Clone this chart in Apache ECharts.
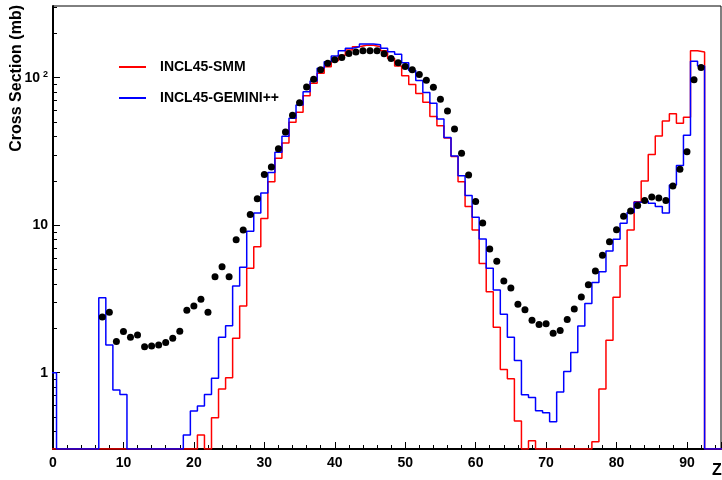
<!DOCTYPE html>
<html>
<head>
<meta charset="utf-8">
<script src="https://cdn.jsdelivr.net/npm/echarts@6/dist/echarts.min.js"></script>
<style>html,body{margin:0;padding:0;background:#fff}#chart{width:722px;height:480px}</style>
</head>
<body>
<div id="chart"></div>
<script>
// Bin centres Z = 0..92 (bin width 1)
const binZ = Array.from({length: 93}, (_, i) => i);

// INCL45-SMM (red) cross sections per Z bin (mb), 0 = empty bin
const smmValues = [
  0, 0, 0, 0, 0, 0, 0, 0, 0, 0,            // Z 0-9
  0, 0, 0, 0, 0, 0, 0, 0, 0, 0,            // Z 10-19
  0, 0.378, 0, 0.495, 0.776, 0.925, 1.71, 2.83, 5.1, 7.15,   // Z 20-29
  11.1, 19.7, 28.4, 36, 49.9, 58.2, 75.5, 91.7, 107, 118.6,  // Z 30-39
  130, 142, 154, 162, 166, 166, 162, 152, 135, 120,          // Z 40-49
  103, 90, 78, 68, 54.5, 47.2, 39, 29.2, 19.7, 13.4,         // Z 50-59
  9.27, 5.5, 3.54, 2.03, 1.05, 0.91, 0.47, 0, 0.346, 0,      // Z 60-69
  0, 0, 0, 0, 0, 0, 0, 0.34, 0.776, 1.66,                    // Z 70-79
  3.25, 5.3, 9.27, 14.4, 19.9, 30.1, 40.3, 50.9, 57, 49,     // Z 80-89
  53.9, 152, 149                                             // Z 90-92
];

// INCL45-GEMINI++ (blue) cross sections per Z bin (mb)
const geminiValues = [
  1.0, 0, 0, 0, 0, 0, 0, 3.22, 1.54, 0.763,                  // Z 0-9
  0.713, 0, 0, 0, 0, 0, 0, 0, 0, 0.378,                      // Z 10-19
  0.55, 0.595, 0.713, 0.916, 1.74, 2.08, 3.87, 5.19, 9.09, 12.1, // Z 20-29
  16.5, 22.8, 31.2, 40, 53, 65.3, 80.4, 95, 116, 128,        // Z 30-39
  140, 152, 158, 162, 169, 169, 167, 158, 150, 144,          // Z 40-49
  126, 112, 95.5, 79.2, 67, 52.4, 39.3, 29.4, 21.6, 15.9,    // Z 50-59
  11.3, 8.05, 5.1, 3.64, 2.49, 1.74, 1.21, 0.71, 0.68, 0.553,// Z 60-69
  0.536, 0.466, 0.74, 1.02, 1.37, 2.07, 2.95, 4.08, 4.83, 6.68, // Z 70-79
  8.03, 10.3, 12.2, 14.3, 14.6, 14.1, 13.4, 12.1, 18.7, 25.4,// Z 80-89
  40.7, 129, 120                                             // Z 90-92
];

// Experimental data points (black dots)
const dataZ = [
  7, 8, 9, 10, 11, 12, 13, 14, 15, 16, 17, 18, 19, 20, 21, 22, 23, 24, 25, 26,
  27, 28, 29, 30, 31, 32, 33, 34, 35, 36, 37, 38, 39, 40, 41, 42, 43, 44, 45, 46,
  47, 48, 49, 50, 51, 52, 53, 54, 55, 56, 57, 58, 59, 60, 61, 62, 63, 64, 65, 66,
  67, 68, 69, 70, 71, 72, 73, 74, 75, 76, 77, 78, 79, 80, 81, 82, 83, 84, 85, 86,
  87, 88, 89, 90, 91, 92
];
const dataCS = [
  2.39, 2.57, 1.63, 1.90, 1.74, 1.80, 1.50, 1.52, 1.54, 1.60, 1.71, 1.91, 2.65, 2.83, 3.15, 2.57, 4.48, 5.23, 4.48, 7.97,
  9.27, 11.8, 15.1, 22.1, 24.8, 33.0, 42.8, 55.6, 67.7, 86.5, 97.6, 113, 125, 132, 137, 146, 149, 152, 152, 152,
  145, 135, 126, 119, 113, 105, 96, 86, 71.4, 59.4, 44.9, 30.7, 21.9, 14.5, 10.35, 6.9, 5.69, 4.19, 3.75, 2.91,
  2.67, 2.27, 2.12, 2.15, 1.85, 1.93, 2.29, 2.70, 3.26, 3.95, 4.9, 6.26, 7.73, 9.3, 11.5, 12.5, 13.6, 14.7, 15.5, 15.3,
  14.7, 18.4, 23.9, 31.5, 96.9, 117
];

const seriesNames = ['INCL45-SMM', 'INCL45-GEMINI++'];
const xRange = [0, 94.83];
const yRange = [0.304, 306];
const yMajorTicks = [1, 10, 100];
const yMinorTicks = [0.4, 0.5, 0.6, 0.7, 0.8, 0.9, 2, 3, 4, 5, 6, 7, 8, 9,
  20, 30, 40, 50, 60, 70, 80, 90, 200, 300];

const FONT = '"Liberation Sans", Arial, Helvetica, sans-serif';

// Build step-histogram outline: empty bins sit on the axis floor
function histLine(values) {
  const floor = yRange[0];
  const v = values.map(x => (x > floor ? x : floor));
  const pts = [[binZ[0] - 0.5, floor]];
  for (let i = 0; i < binZ.length; i++) pts.push([binZ[i] - 0.5, v[i]]);
  pts.push([binZ[binZ.length - 1] + 0.5, floor]);
  pts.push([xRange[1] + 1, floor]);
  return pts;
}

const legendText = {fontFamily: FONT, fontWeight: 'bold', fontSize: 14, color: '#000', padding: [0, 0, 0, 9]};

const chart = echarts.init(document.getElementById('chart'), null, {renderer: 'canvas'});
chart.setOption({
  animation: false,
  backgroundColor: '#fff',
  grid: {left: 53, top: 6, right: 1, bottom: 31, show: true, borderColor: '#000', borderWidth: 1},
  legend: [
    {data: [seriesNames[0]], left: 119, top: 60, padding: 0, orient: 'vertical',
      icon: 'rect', itemWidth: 27, itemHeight: 2, textStyle: legendText},
    {data: [seriesNames[1]], left: 119, top: 91, padding: 0, orient: 'vertical',
      icon: 'rect', itemWidth: 27, itemHeight: 2, textStyle: legendText}
  ],
  xAxis: {
    type: 'value', min: xRange[0], max: xRange[1], interval: 10,
    axisLine: {show: true, onZero: false, lineStyle: {color: '#000', width: 2}},
    axisTick: {show: true, inside: true, length: 7, lineStyle: {color: '#000', width: 1}},
    minorTick: {show: true, splitNumber: 5, length: 4, lineStyle: {color: '#000', width: 1}},
    splitLine: {show: false},
    axisLabel: {margin: 7, fontFamily: FONT, fontWeight: 'bold', fontSize: 14, color: '#000',
      showMaxLabel: false,
      formatter: v => (v % 10 === 0 ? String(v) : '')}
  },
  yAxis: [
    {
      type: 'log', logBase: 10, min: yRange[0], max: yRange[1], position: 'left',
      axisLine: {show: true, lineStyle: {color: '#000', width: 2}},
      axisTick: {show: true, inside: true, length: 7, customValues: yMajorTicks, lineStyle: {color: '#000', width: 1}},
      splitLine: {show: false},
      axisLabel: {
        margin: 5, fontFamily: FONT, fontWeight: 'bold', fontSize: 14, color: '#000',
        customValues: yMajorTicks,
        formatter: function (v) {
          const r = Math.round(v * 1000) / 1000;
          if (r === 100) return '{b|10}{s|2}';
          if (r === 10) return '10';
          if (r === 1) return '1';
          return '';
        },
        rich: {
          b: {fontFamily: FONT, fontWeight: 'bold', fontSize: 14, color: '#000', lineHeight: 16},
          s: {fontFamily: FONT, fontWeight: 'bold', fontSize: 9, color: '#000', verticalAlign: 'top', lineHeight: 10, padding: [0, 0, 0, 3]}
        }
      }
    },
    {
      type: 'log', logBase: 10, min: yRange[0], max: yRange[1], position: 'left', offset: 0,
      axisLine: {show: false},
      axisTick: {show: true, inside: true, length: 4, customValues: yMinorTicks, lineStyle: {color: '#000', width: 1}},
      axisLabel: {show: false},
      splitLine: {show: false}
    }
  ],
  graphic: [
    {type: 'text', x: 17, y: 5, rotation: Math.PI / 2,
      style: {text: 'Cross Section (mb)', font: 'bold 16px ' + FONT, fill: '#000', align: 'right', verticalAlign: 'middle'}},
    {type: 'text', x: 717, y: 471,
      style: {text: 'Z', font: 'bold 16px ' + FONT, fill: '#000', align: 'center', verticalAlign: 'middle'}}
  ],
  series: [
    {
      name: seriesNames[0], type: 'line', step: 'end', data: histLine(smmValues),
      symbol: 'none', color: '#ff0000', itemStyle: {color: '#ff0000'},
      lineStyle: {color: '#ff0000', width: 1.5}, clip: true, z: 2
    },
    {
      name: seriesNames[1], type: 'line', step: 'end', data: histLine(geminiValues),
      symbol: 'none', color: '#0000ff', itemStyle: {color: '#0000ff'},
      lineStyle: {color: '#0000ff', width: 1.5}, clip: true, z: 3
    },
    {
      name: 'Data', type: 'scatter', data: dataZ.map((z, i) => [z, dataCS[i]]),
      symbol: 'circle', symbolSize: 7, itemStyle: {color: '#000', opacity: 1}, clip: true, z: 4
    }
  ]
});
</script>
</body>
</html>
